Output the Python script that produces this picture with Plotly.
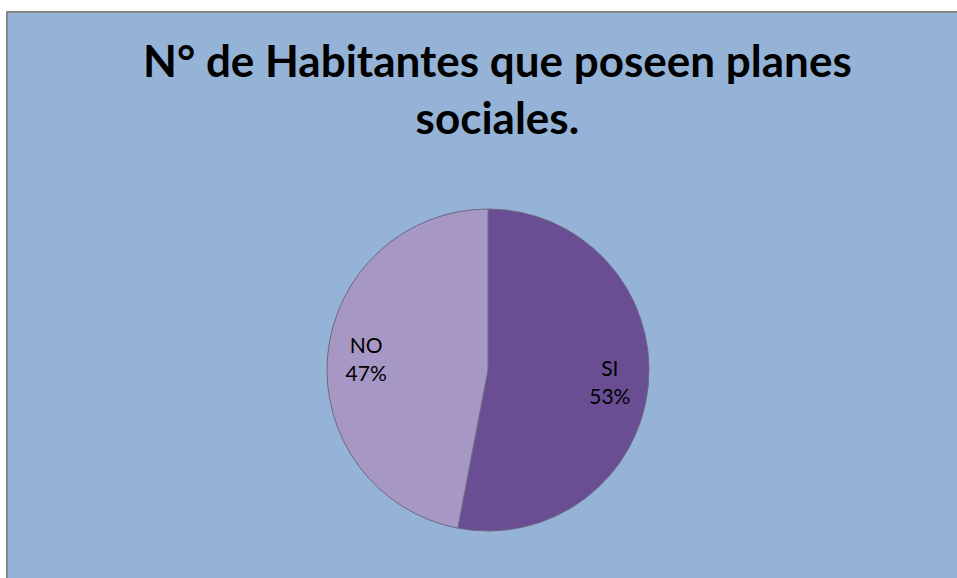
import plotly.graph_objects as go

labels = ["SI", "NO"]
values = [53, 47]
colors = ["#6A4E94", "#A697C5"]

W, H = 957, 578
cx, cy, r = 488, 370, 161
dom = dict(x=[(cx - 200) / W, (cx + 200) / W],
           y=[(H - cy - r) / H, (H - cy + r) / H])

fig = go.Figure()
# filled pie
fig.add_trace(go.Pie(
    labels=labels, values=values, sort=False, direction="clockwise", rotation=0,
    marker=dict(colors=colors, line=dict(color="#6E6880", width=1)),
    textinfo="none", showlegend=False, hoverinfo="label+percent", domain=dom,
))
# transparent overlay carrying the labels further out in the slices
fig.add_trace(go.Pie(
    labels=labels, values=values, sort=False, direction="clockwise", rotation=0,
    hole=0.52,
    marker=dict(colors=["rgba(0,0,0,0)"] * len(values), line=dict(width=0)),
    texttemplate="%{label}<br>%{percent:.0%}",
    textposition="inside", insidetextorientation="horizontal",
    textfont=dict(family="Lato, Open Sans, sans-serif", size=21, color="#000000"),
    showlegend=False, hoverinfo="skip", domain=dom,
))

fig.update_layout(
    width=W, height=H,
    margin=dict(l=0, r=0, t=0, b=0),
    paper_bgcolor="#FFFFFF",
    plot_bgcolor="#95B3D7",
    shapes=[dict(type="rect", xref="paper", yref="paper",
                 x0=7 / W, x1=1.02, y0=-0.02, y1=1 - 12 / H,
                 fillcolor="#95B3D7", line=dict(color="#878787", width=2),
                 layer="below")],
    annotations=[dict(text="<b>N° de Habitantes que poseen planes<br>sociales.</b>",
                      xref="paper", yref="paper", x=497 / W, y=1 - 88 / H,
                      xanchor="center", yanchor="middle", showarrow=False,
                      font=dict(family="Lato, Open Sans, sans-serif", size=44, color="#000000"))],
)

fig.write_html("out.html", config={"displayModeBar": False},
               post_script="document.body.style.margin='0';document.body.style.overflow='hidden';")
